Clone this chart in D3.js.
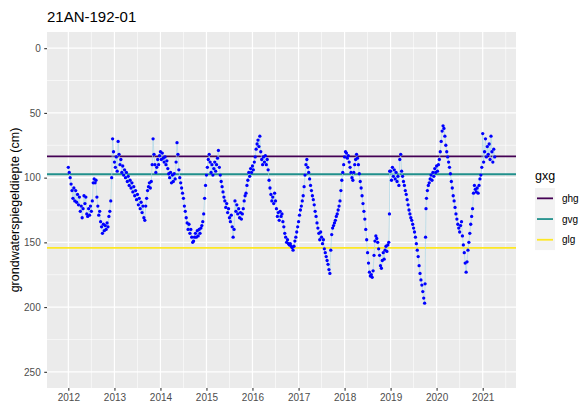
<!DOCTYPE html>
<html>
<head>
<meta charset="utf-8">
<script src="https://cdn.jsdelivr.net/npm/d3@7"></script>
<style>
  body { margin: 0; background: #fff; }
  svg { display: block; font-family: "Liberation Sans", Arial, sans-serif; }
</style>
</head>
<body>
<div id="chart"></div>
<script>
const title = '21AN-192-01';
const yLabel = 'grondwaterspiegeldiepte (cm)';

const obsYear = [
  2012.00, 2012.02, 2012.04, 2012.06, 2012.08, 2012.10, 2012.12, 2012.14, 2012.16, 2012.18,
  2012.20, 2012.22, 2012.24, 2012.26, 2012.28, 2012.30, 2012.32, 2012.34, 2012.36, 2012.38,
  2012.40, 2012.42, 2012.44, 2012.46, 2012.48, 2012.50, 2012.52, 2012.54, 2012.56, 2012.58,
  2012.60, 2012.62, 2012.64, 2012.66, 2012.68, 2012.70, 2012.72, 2012.74, 2012.76, 2012.78,
  2012.80, 2012.82, 2012.84, 2012.86, 2012.88, 2012.90, 2012.92, 2012.94, 2012.96, 2012.98,
  2013.00, 2013.02, 2013.04, 2013.06, 2013.08, 2013.10, 2013.12, 2013.14, 2013.16, 2013.18,
  2013.20, 2013.22, 2013.24, 2013.26, 2013.28, 2013.30, 2013.32, 2013.34, 2013.36, 2013.38,
  2013.40, 2013.42, 2013.44, 2013.46, 2013.48, 2013.50, 2013.52, 2013.54, 2013.56, 2013.58,
  2013.60, 2013.62, 2013.64, 2013.66, 2013.68, 2013.70, 2013.72, 2013.74, 2013.76, 2013.78,
  2013.80, 2013.82, 2013.84, 2013.86, 2013.88, 2013.90, 2013.92, 2013.94, 2013.96, 2013.98,
  2014.00, 2014.02, 2014.04, 2014.06, 2014.08, 2014.10, 2014.12, 2014.14, 2014.16, 2014.18,
  2014.20, 2014.22, 2014.24, 2014.26, 2014.28, 2014.30, 2014.32, 2014.34, 2014.36, 2014.38,
  2014.40, 2014.42, 2014.44, 2014.46, 2014.48, 2014.50, 2014.52, 2014.54, 2014.56, 2014.58,
  2014.60, 2014.62, 2014.64, 2014.66, 2014.68, 2014.70, 2014.72, 2014.74, 2014.76, 2014.78,
  2014.80, 2014.82, 2014.84, 2014.86, 2014.88, 2014.90, 2014.92, 2014.94, 2014.96, 2014.98,
  2015.00, 2015.02, 2015.04, 2015.06, 2015.08, 2015.10, 2015.12, 2015.14, 2015.16, 2015.18,
  2015.20, 2015.22, 2015.24, 2015.26, 2015.28, 2015.30, 2015.32, 2015.34, 2015.36, 2015.38,
  2015.40, 2015.42, 2015.44, 2015.46, 2015.48, 2015.50, 2015.52, 2015.54, 2015.56, 2015.58,
  2015.60, 2015.62, 2015.64, 2015.66, 2015.68, 2015.70, 2015.72, 2015.74, 2015.76, 2015.78,
  2015.80, 2015.82, 2015.84, 2015.86, 2015.88, 2015.90, 2015.92, 2015.94, 2015.96, 2015.98,
  2016.00, 2016.02, 2016.04, 2016.06, 2016.08, 2016.10, 2016.12, 2016.14, 2016.16, 2016.18,
  2016.20, 2016.22, 2016.24, 2016.26, 2016.28, 2016.30, 2016.32, 2016.34, 2016.36, 2016.38,
  2016.40, 2016.42, 2016.44, 2016.46, 2016.48, 2016.50, 2016.52, 2016.54, 2016.56, 2016.58,
  2016.60, 2016.62, 2016.64, 2016.66, 2016.68, 2016.70, 2016.72, 2016.74, 2016.76, 2016.78,
  2016.80, 2016.82, 2016.84, 2016.86, 2016.88, 2016.90, 2016.92, 2016.94, 2016.96, 2016.98,
  2017.00, 2017.02, 2017.04, 2017.06, 2017.08, 2017.10, 2017.12, 2017.14, 2017.16, 2017.18,
  2017.20, 2017.22, 2017.24, 2017.26, 2017.28, 2017.30, 2017.32, 2017.34, 2017.36, 2017.38,
  2017.40, 2017.42, 2017.44, 2017.46, 2017.48, 2017.50, 2017.52, 2017.54, 2017.56, 2017.58,
  2017.60, 2017.62, 2017.64, 2017.66, 2017.68, 2017.70, 2017.72, 2017.74, 2017.76, 2017.78,
  2017.80, 2017.82, 2017.84, 2017.86, 2017.88, 2017.90, 2017.92, 2017.94, 2017.96, 2017.98,
  2018.00, 2018.02, 2018.04, 2018.06, 2018.08, 2018.10, 2018.12, 2018.14, 2018.16, 2018.18,
  2018.20, 2018.22, 2018.24, 2018.26, 2018.28, 2018.30, 2018.32, 2018.34, 2018.36, 2018.38,
  2018.40, 2018.42, 2018.44, 2018.46, 2018.48, 2018.50, 2018.52, 2018.54, 2018.56, 2018.58,
  2018.60, 2018.62, 2018.64, 2018.66, 2018.68, 2018.70, 2018.72, 2018.74, 2018.76, 2018.78,
  2018.80, 2018.82, 2018.84, 2018.86, 2018.88, 2018.90, 2018.92, 2018.94, 2018.96, 2018.975, 2018.98,
  2019.00, 2019.02, 2019.04, 2019.06, 2019.08, 2019.10, 2019.12, 2019.14, 2019.16, 2019.18,
  2019.20, 2019.22, 2019.24, 2019.26, 2019.28, 2019.30, 2019.32, 2019.34, 2019.36, 2019.38,
  2019.40, 2019.42, 2019.44, 2019.46, 2019.48, 2019.50, 2019.52, 2019.54, 2019.56, 2019.58,
  2019.60, 2019.62, 2019.64, 2019.66, 2019.68, 2019.70, 2019.72, 2019.74, 2019.75, 2019.76, 2019.77, 2019.78,
  2019.80, 2019.82, 2019.84, 2019.86, 2019.88, 2019.90, 2019.92, 2019.94, 2019.96, 2019.98,
  2020.00, 2020.02, 2020.04, 2020.06, 2020.08, 2020.10, 2020.12, 2020.14, 2020.16, 2020.18,
  2020.20, 2020.22, 2020.24, 2020.26, 2020.28, 2020.30, 2020.32, 2020.34, 2020.36, 2020.38,
  2020.40, 2020.42, 2020.44, 2020.46, 2020.48, 2020.50, 2020.52, 2020.54, 2020.56, 2020.58,
  2020.60, 2020.62, 2020.64, 2020.66, 2020.68, 2020.70, 2020.72, 2020.74, 2020.76, 2020.78,
  2020.80, 2020.82, 2020.84, 2020.86, 2020.88, 2020.90, 2020.92, 2020.94, 2020.96, 2020.98,
  2021.00, 2021.02, 2021.04, 2021.06, 2021.08, 2021.10, 2021.12, 2021.14, 2021.16, 2021.18,
  2021.20, 2021.22, 2021.24, 2021.26
];

// groundwater depth below surface (cm)
const obsDepth = [
  92, 96, 100, 105, 110, 116, 108, 118, 110, 119,
  113, 121, 115, 126, 122, 131, 124, 114, 120, 115,
  128, 130, 124, 129, 122, 126, 118, 104, 101, 104,
  102, 115, 122, 129, 126, 134, 138, 143, 136, 141,
  137, 140, 135, 138, 130, 126, 118, 100, 70, 80,
  88, 92, 84, 95, 72, 82, 90, 86, 96, 91,
  98, 94, 100, 96, 103, 99, 106, 102, 108, 104,
  111, 107, 114, 110, 117, 113, 121, 116, 124, 119,
  127, 122, 131, 133, 122, 116, 110, 107, 104, 108,
  103, 90, 70, 82, 90, 96, 92, 86, 90, 83,
  80, 86, 81, 85, 88, 84, 90, 87, 93, 97,
  100, 96, 104, 98, 103, 97, 101, 88, 73, 82,
  94, 100, 104, 108, 112, 116, 122, 126, 131, 135,
  140, 136, 143, 140, 146, 150, 149, 146, 143, 146,
  141, 145, 140, 143, 139, 137, 134, 128, 116, 106,
  98, 92, 86, 82, 88, 96, 90, 98, 93, 88,
  95, 90, 85, 79, 92, 98, 103, 107, 111, 115,
  118, 123, 120, 127, 124, 131, 134, 129, 138, 146,
  140, 118, 126, 121, 128, 124, 131, 127, 132, 128,
  124, 118, 114, 112, 106, 102, 96, 99, 93, 96,
  91, 94, 88, 84, 78, 74, 71, 76, 68, 80,
  86, 90, 84, 88, 83, 90, 86, 94, 102, 108,
  113, 118, 115, 120, 112, 118, 124, 130, 127, 133,
  126, 130, 128, 134, 138, 143, 146, 150, 148, 151,
  152, 151, 153, 154, 156, 153, 149, 146, 142, 138,
  134, 129, 125, 122, 118, 114, 107, 98, 90, 86,
  92, 96, 101, 106, 110, 114, 117, 121, 126, 130,
  135, 139, 143, 148, 142, 146, 151, 148, 155, 158,
  161, 164, 167, 171, 174, 156, 144, 139, 137, 135,
  133, 130, 128, 125, 122, 118, 110, 102, 96, 90,
  84, 80, 81, 85, 83, 88, 92, 96, 100, 102,
  96, 90, 86, 82, 85, 90, 97, 103, 108, 114,
  120, 126, 132, 140, 148, 158, 166, 173, 176, 175,
  177, 172, 160, 149, 145, 147, 150, 155, 160, 168,
  170, 164, 158, 163, 156, 153, 157, 152, 150, 128, 95,
  95, 102, 92, 99, 94, 101, 96, 103, 99, 106,
  86, 82, 95, 99, 103, 106, 110, 113, 117, 121,
  125, 128, 131, 133, 136, 139, 142, 146, 151, 156,
  161, 168, 174, 179, 183, 188, 193, 197, 182, 146, 124, 116,
  110, 106, 104, 101, 98, 102, 96, 99, 93, 96,
  91, 95, 90, 86, 80, 72, 64, 60, 62, 68,
  75, 80, 84, 88, 92, 97, 103, 108, 114, 118,
  123, 128, 132, 136, 139, 142, 137, 134, 145, 152,
  158, 166, 173, 165, 156, 150, 143, 136, 130, 124,
  112, 106, 109, 111, 108, 112, 106, 101, 98, 92,
  66, 88, 80, 70, 84, 76, 82, 74, 86, 68,
  80, 88, 78, 84
];

// characteristic levels
const gxgNames = ['ghg', 'gvg', 'glg'];
const gxgDepth = [83.5, 97.4, 154.3];
const gxgColors = ['#440154', '#21908C', '#FDE725'];

const yearTicks = [2012, 2013, 2014, 2015, 2016, 2017, 2018, 2019, 2020, 2021];
const depthTicks = [0, 50, 100, 150, 200, 250];
const depthMinor = [25, 75, 125, 175, 225];

function toDate(y) {
  const yr = Math.floor(y);
  const a = new Date(yr, 0, 1), b = new Date(yr + 1, 0, 1);
  return new Date(+a + (y - yr) * (b - a));
}

const width = 585, height = 408;
const margin = { top: 32, right: 69, bottom: 20, left: 47 };
const pw = width - margin.left - margin.right;
const ph = height - margin.top - margin.bottom;

const data = obsYear.map((y, i) => ({ date: toDate(y), depth: obsDepth[i] }));

const ext = d3.extent(data, d => +d.date);
const pad = (ext[1] - ext[0]) * 0.05;
const x = d3.scaleTime().domain([new Date(ext[0] - pad), new Date(ext[1] + pad)]).range([0, pw]);
const y = d3.scaleLinear().domain([-12.5, 262.5]).range([0, ph]);

const svg = d3.select('#chart').append('svg')
  .attr('width', width)
  .attr('height', height);

svg.append('text')
  .attr('x', margin.left)
  .attr('y', 22)
  .attr('font-size', 15)
  .attr('fill', '#000')
  .text(title);

const g = svg.append('g')
  .attr('transform', 'translate(' + margin.left + ',' + margin.top + ')');

g.append('rect')
  .attr('width', pw)
  .attr('height', ph)
  .attr('fill', '#EBEBEB');

// minor grid
const xMinor = d3.range(2011, 2022).map(v => toDate(v + 0.5))
  .filter(d => d >= x.domain()[0] && d <= x.domain()[1]);

g.selectAll('.xminor').data(xMinor).enter().append('line')
  .attr('x1', d => x(d)).attr('x2', d => x(d))
  .attr('y1', 0).attr('y2', ph)
  .attr('stroke', '#fff').attr('stroke-width', 0.6);

g.selectAll('.yminor').data(depthMinor).enter().append('line')
  .attr('x1', 0).attr('x2', pw)
  .attr('y1', d => y(d)).attr('y2', d => y(d))
  .attr('stroke', '#fff').attr('stroke-width', 0.6);

// major grid
g.selectAll('.xmajor').data(yearTicks).enter().append('line')
  .attr('x1', d => x(toDate(d))).attr('x2', d => x(toDate(d)))
  .attr('y1', 0).attr('y2', ph)
  .attr('stroke', '#fff').attr('stroke-width', 1.2);

g.selectAll('.ymajor').data(depthTicks).enter().append('line')
  .attr('x1', 0).attr('x2', pw)
  .attr('y1', d => y(d)).attr('y2', d => y(d))
  .attr('stroke', '#fff').attr('stroke-width', 1.2);

// gxg levels
g.selectAll('.gxg').data(gxgNames).enter().append('line')
  .attr('x1', 0).attr('x2', pw)
  .attr('y1', (d, i) => y(gxgDepth[i])).attr('y2', (d, i) => y(gxgDepth[i]))
  .attr('stroke', (d, i) => gxgColors[i])
  .attr('stroke-width', 1.8);

// series
const line = d3.line()
  .x(d => x(d.date))
  .y(d => y(d.depth));

g.append('path')
  .datum(data)
  .attr('fill', 'none')
  .attr('stroke', 'lightblue')
  .attr('stroke-width', 0.7)
  .attr('d', line);

g.selectAll('.pt').data(data).enter().append('circle')
  .attr('cx', d => x(d.date))
  .attr('cy', d => y(d.depth))
  .attr('r', 1.65)
  .attr('fill', 'blue');

// axes
const xAxis = g.append('g')
  .attr('transform', 'translate(0,' + ph + ')')
  .call(d3.axisBottom(x)
    .tickValues(yearTicks.map(toDate))
    .tickFormat(d3.timeFormat('%Y'))
    .tickSize(2.75)
    .tickPadding(3.5));

const yAxis = g.append('g')
  .call(d3.axisLeft(y)
    .tickValues(depthTicks)
    .tickSize(2.75)
    .tickPadding(3.5));

[xAxis, yAxis].forEach(ax => {
  ax.select('.domain').remove();
  ax.selectAll('line').attr('stroke', '#333').attr('stroke-width', 1.1);
  ax.selectAll('text')
    .attr('fill', '#4D4D4D')
    .attr('font-size', 10)
    .attr('font-family', '"Liberation Sans", Arial, sans-serif');
});

svg.append('text')
  .attr('transform', 'translate(19,' + (margin.top + ph / 2) + ') rotate(-90)')
  .attr('text-anchor', 'middle')
  .attr('font-size', 12.5)
  .attr('fill', '#000')
  .text(yLabel);

// legend
const legend = svg.append('g')
  .attr('transform', 'translate(535,188)');

legend.append('text')
  .attr('x', 0)
  .attr('y', -8)
  .attr('font-size', 12.5)
  .attr('fill', '#000')
  .text('gxg');

const rowH = 20.7;
legend.append('rect')
  .attr('width', 20)
  .attr('height', rowH * gxgNames.length)
  .attr('fill', '#F2F2F2');

const item = legend.selectAll('.item').data(gxgNames).enter().append('g')
  .attr('transform', (d, i) => 'translate(0,' + (i * rowH + rowH / 2) + ')');

item.append('line')
  .attr('x1', 2).attr('x2', 18)
  .attr('stroke', (d, i) => gxgColors[i])
  .attr('stroke-width', 1.8);

item.append('text')
  .attr('x', 27)
  .attr('dy', '0.35em')
  .attr('font-size', 10)
  .attr('fill', '#000')
  .text(d => d);
</script>
</body>
</html>
